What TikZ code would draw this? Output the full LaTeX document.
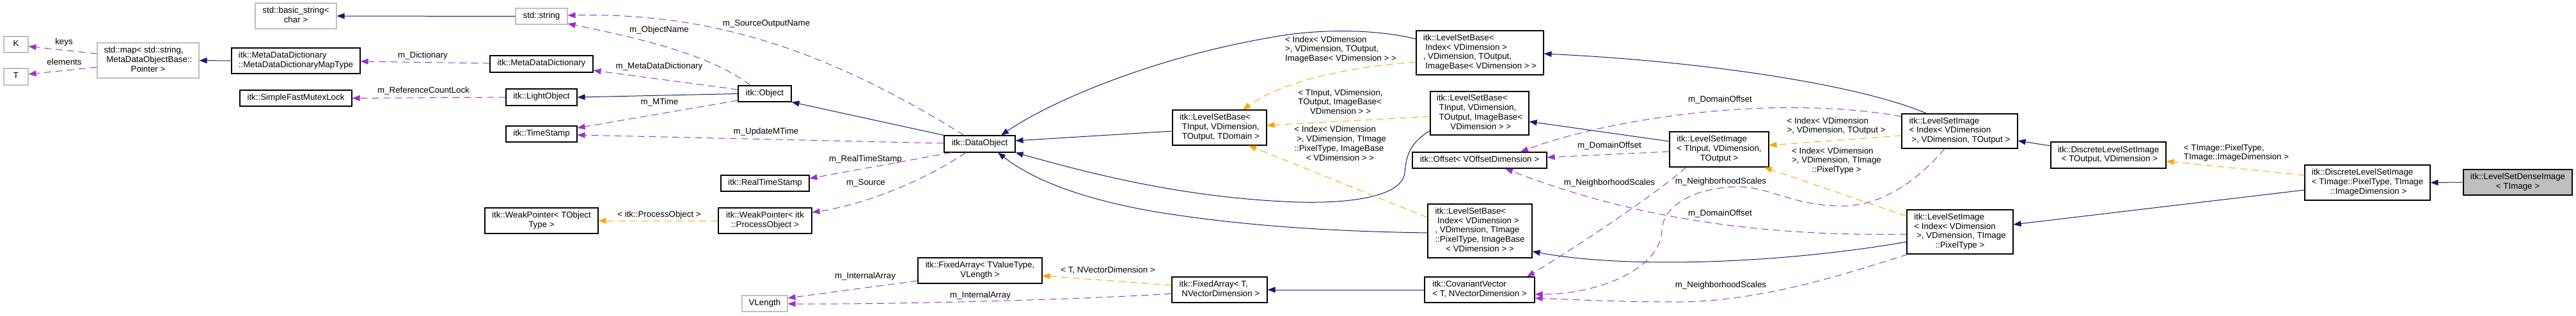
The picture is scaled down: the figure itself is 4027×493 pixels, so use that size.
\documentclass[tikz,border=0pt]{standalone}
\usepackage{fontspec}
\setmainfont{Liberation Sans}
\usetikzlibrary{arrows.meta}
\definecolor{navy}{HTML}{191970}
\definecolor{dpurple}{HTML}{9A32CD}
\definecolor{dorange}{HTML}{FFA500}
\definecolor{grey75}{HTML}{BFBFBF}
\newcommand{\dxl}[1]{\begin{tabular}{@{}l@{}}#1\end{tabular}}
\newcommand{\dxc}[1]{\multicolumn{1}{@{}c@{}}{#1}}
\begin{document}
\begin{tikzpicture}[x=1pt,y=-1pt, font=\fontsize{13.33}{14.9}\selectfont,
 box/.style={draw=black, line width=1.1pt, fill=white, inner sep=0pt, rectangle},
 gbox/.style={box, draw=grey75},
 inh/.style={draw=navy, line width=1pt, -{Triangle[length=12pt,width=9pt]}},
 tmpl/.style={draw=dorange, line width=1pt, dash pattern=on 11pt off 7pt, -{Triangle[length=12pt,width=9pt]}},
 mem/.style={draw=dpurple, line width=1pt, dash pattern=on 11pt off 7pt, -{Triangle[length=12pt,width=9pt]}},
 lbl/.style={inner sep=0pt}]
\useasboundingbox (0,0) rectangle (4027,493);
% nodes
\node[gbox, minimum width=38, minimum height=25] (K) at (25,69.5) {\dxl{K}};
\node[gbox, minimum width=38, minimum height=26] (T) at (25,120) {\dxl{T}};
\node[gbox, minimum width=159, minimum height=55] (map) at (231.5,94.5) {\dxl{std::map< std::string,\\ \ MetaDataObjectBase::\\ \dxc{Pointer >}}};
\node[gbox, minimum width=127, minimum height=40] (bstr) at (462.5,25) {\dxl{std::basic\_string<\\ \dxc{char >}}};
\node[box, minimum width=201, minimum height=40] (mtype) at (462.5,95) {\dxl{itk::MetaDataDictionary\\ \dxc{::MetaDataDictionaryMapType}}};
\node[box, minimum width=175, minimum height=25] (mutex) at (462.5,153.5) {\dxl{itk::SimpleFastMutexLock}};
\node[gbox, minimum width=81, minimum height=25] (str) at (846.5,25.5) {\dxl{std::string}};
\node[box, minimum width=161, minimum height=26] (mdd) at (846.5,100) {\dxl{itk::MetaDataDictionary}};
\node[box, minimum width=111, minimum height=26] (light) at (846.5,152) {\dxl{itk::LightObject}};
\node[box, minimum width=111, minimum height=25] (ts) at (846.5,209.5) {\dxl{itk::TimeStamp}};
\node[box, minimum width=177, minimum height=40] (wpT) at (846.5,345) {\dxl{itk::WeakPointer< TObject\\ \dxc{Type >}}};
\node[box, minimum width=83, minimum height=25] (obj) at (1195.5,146.5) {\dxl{itk::Object}};
\node[box, minimum width=138, minimum height=25] (rts) at (1196,286.5) {\dxl{itk::RealTimeStamp}};
\node[box, minimum width=146, minimum height=40] (wpPO) at (1196,345) {\dxl{itk::WeakPointer< itk\\ \dxc{::ProcessObject >}}};
\node[gbox, minimum width=71, minimum height=25] (vlen) at (1195.5,474.5) {\dxl{VLength}};
\node[box, minimum width=111, minimum height=26] (dobj) at (1531.5,225) {\dxl{itk::DataObject}};
\node[box, minimum width=194, minimum height=40] (faTV) at (1532,423) {\dxl{itk::FixedArray< TValueType,\\ \dxc{VLength >}}};
\node[box, minimum width=147, minimum height=55] (lsbT) at (1906.5,199.5) {\dxl{itk::LevelSetBase<\\ \ TInput, VDimension,\\ \dxc{\ TOutput, TDomain >}}};
\node[box, minimum width=149, minimum height=40] (faT) at (1906.5,453) {\dxl{itk::FixedArray< T,\\ \dxc{\ NVectorDimension >}}};
\node[box, minimum width=199, minimum height=69] (lsbIO) at (2313.5,82.5) {\dxl{itk::LevelSetBase<\\ \ Index< VDimension >\\ , VDimension, TOutput,\\ \dxc{\ ImageBase< VDimension > >}}};
\node[box, minimum width=154, minimum height=68] (lsbII) at (2313,177) {\dxl{itk::LevelSetBase<\\ \ TInput, VDimension,\\ \ TOutput, ImageBase<\\ \dxc{\ VDimension > >}}};
\node[box, minimum width=210, minimum height=25] (off) at (2313,250.5) {\dxl{itk::Offset< VOffsetDimension >}};
\node[box, minimum width=163, minimum height=84] (lsbIP) at (2313.5,361) {\dxl{itk::LevelSetBase<\\ \ Index< VDimension >\\ , VDimension, TImage\\ ::PixelType, ImageBase\\ \dxc{< VDimension > >}}};
\node[box, minimum width=172, minimum height=40] (cov) at (2313,453) {\dxl{itk::CovariantVector\\ \dxc{< T, NVectorDimension >}}};
\node[box, minimum width=155, minimum height=55] (lsiIn) at (2687.5,233.5) {\dxl{itk::LevelSetImage\\ < TInput, VDimension,\\ \dxc{TOutput >}}};
\node[box, minimum width=181, minimum height=54] (lsiIO) at (3063.5,205) {\dxl{itk::LevelSetImage\\ < Index< VDimension\\ \dxc{\ >, VDimension, TOutput >}}};
\node[box, minimum width=166, minimum height=69] (lsiIP) at (3064,362.5) {\dxl{itk::LevelSetImage\\ < Index< VDimension\\ \ >, VDimension, TImage\\ \dxc{::PixelType >}}};
\node[box, minimum width=180, minimum height=41] (dlsiO) at (3296,242.5) {\dxl{itk::DiscreteLevelSetImage\\ \dxc{\ < TOutput, VDimension >}}};
\node[box, minimum width=196, minimum height=55] (dlsiI) at (3701,285.5) {\dxl{itk::DiscreteLevelSetImage\\ < TImage::PixelType, TImage\\ \dxc{\ ::ImageDimension >}}};
\node[box, fill=grey75, minimum width=170, minimum height=40] (dense) at (3936,285) {\dxl{itk::LevelSetDenseImage\\ \dxc{< TImage >}}};
% edge labels
\node[lbl] (lkeys) at (100,67) {\dxl{keys}};
\node[lbl] (lelem) at (100.5,99) {\dxl{elements}};
\node[lbl] (ldict) at (661,88) {\dxl{m\_Dictionary}};
\node[lbl] (lrcl) at (662,143) {\dxl{m\_ReferenceCountLock}};
\node[lbl] (lon) at (1030.5,48) {\dxl{m\_ObjectName}};
\node[lbl] (lson) at (1198,38) {\dxl{m\_SourceOutputName}};
\node[lbl] (lmdd) at (1030.5,105) {\dxl{m\_MetaDataDictionary}};
\node[lbl] (lmt) at (1031,161) {\dxl{m\_MTime}};
\node[lbl] (lumt) at (1197.5,207) {\dxl{m\_UpdateMTime}};
\node[lbl] (lrts) at (1353,250) {\dxl{m\_RealTimeStamp}};
\node[lbl] (lsrc) at (1353.5,287) {\dxl{m\_Source}};
\node[lbl] (lpo) at (1030.5,337) {\dxl{< itk::ProcessObject >}};
\node[lbl] (lia1) at (1352.5,433) {\dxl{m\_InternalArray}};
\node[lbl] (lia2) at (1532.5,463) {\dxl{m\_InternalArray}};
\node[lbl] (ltnv) at (1732,424) {\dxl{< T, NVectorDimension >}};
\node[lbl] (lp) at (2096,78) {\dxl{< Index< VDimension\\ >, VDimension, TOutput,\\ \dxc{ImageBase< VDimension > >}}};
\node[lbl] (lq) at (2095.5,161) {\dxl{< TInput, VDimension,\\ TOutput, ImageBase<\\ \dxc{VDimension > >}}};
\node[lbl] (lr) at (2095,226) {\dxl{< Index< VDimension\\ \ >, VDimension, TImage\\ ::PixelType, ImageBase\\ \dxc{< VDimension > >}}};
\node[lbl] (ls) at (2870.5,197.5) {\dxl{< Index< VDimension\\ \dxc{>, VDimension, TOutput >}}};
\node[lbl] (lt) at (2871,252) {\dxl{< Index< VDimension\\ >, VDimension, TImage\\ \dxc{::PixelType >}}};
\node[lbl] (lu) at (3496,239.5) {\dxl{< TImage::PixelType,\\ \dxc{TImage::ImageDimension >}}};
\node[lbl] (ldo1) at (2689,157) {\dxl{m\_DomainOffset}};
\node[lbl] (ldo2) at (2516,229) {\dxl{m\_DomainOffset}};
\node[lbl] (ldo3) at (2689,335) {\dxl{m\_DomainOffset}};
\node[lbl] (lns1) at (2516,287) {\dxl{m\_NeighborhoodScales}};
\node[lbl] (lns2) at (2690,285) {\dxl{m\_NeighborhoodScales}};
\node[lbl] (lns3) at (2690,447) {\dxl{m\_NeighborhoodScales}};
% inheritance
\draw[inh] (mtype.west) -- (map.east);
\draw[inh] (str.west) -- (bstr.east);
\draw[inh] (obj.west) -- (light.east);
\draw[inh] (dobj.north west) -- (obj.south east);
\draw[inh] ([yshift=21.5pt]lsbIO.west) .. controls (2150,45) and (2060,45) .. (1990,58) .. controls (1800,90) and (1640,160) .. ([xshift=33.5pt]dobj.north);
\draw[inh] ([yshift=-5.5pt]lsbT.west) -- ([yshift=5pt]dobj.east);
\draw[inh] ([yshift=7pt]lsbII.south west) .. controls (2200,225) and (2198,250) .. (2196,270) .. controls (2192,310) and (2100,318) .. (2030,316) .. controls (1850,310) and (1700,270) .. (dobj.south east);
\draw[inh] ([yshift=-3pt]lsbIP.west) .. controls (2100,362) and (1950,355) .. (1800,330) .. controls (1700,312) and (1620,285) .. ([xshift=28.5pt]dobj.south);
\draw[inh] ([xshift=-51.5pt]lsiIO.north) .. controls (2900,130) and (2650,95) .. ([yshift=-1.5pt]lsbIO.east);
\draw[inh] ([yshift=12.5pt]lsiIn.west) -- ([yshift=-13pt]lsbII.east);
\draw[inh] ([yshift=-15.5pt]lsiIP.west) .. controls (2800,410) and (2550,422) .. ([yshift=-32pt]lsbIP.east);
\draw[inh] ([yshift=14.5pt]dlsiO.west) -- ([yshift=-15pt]lsiIO.east);
\draw[inh] ([yshift=-11.5pt]dlsiI.west) -- ([yshift=11.5pt]lsiIP.east);
\draw[inh] (dense.west) -- (dlsiI.east);
\draw[inh] (cov.west) -- (faT.east);
% template instances
\draw[tmpl] ([yshift=-14.5pt]lsbIO.west) .. controls (2100,105) and (2000,130) .. ([xshift=36.5pt]lsbT.north);
\draw[tmpl] ([yshift=-5pt]lsbII.west) -- ([yshift=3.5pt]lsbT.east);
\draw[tmpl] ([yshift=21pt]lsbIP.west) -- ([xshift=45.5pt]lsbT.south);
\draw[tmpl] ([yshift=-7pt]lsiIO.west) -- ([yshift=6.5pt]lsiIn.east);
\draw[tmpl] ([yshift=24.5pt]lsiIP.west) -- ([xshift=70.5pt]lsiIn.south);
\draw[tmpl] ([yshift=11.5pt]dlsiI.west) -- ([yshift=-9.5pt]dlsiO.east);
\draw[tmpl] ([yshift=7pt]faT.west) -- ([yshift=-8pt]faTV.east);
\draw[tmpl] (wpPO.west) -- (wpT.east);
% members
\draw[mem] ([yshift=10.5pt]map.west) -- ([yshift=-3pt]K.east);
\draw[mem] ([yshift=-10.5pt]map.west) -- ([yshift=4pt]T.east);
\draw[mem] ([yshift=1pt]mdd.west) -- ([yshift=-1pt]mtype.east);
\draw[mem] (light.west) -- (mutex.east);
\draw[mem] ([xshift=-22.5pt]obj.north) .. controls (1110,85) and (1000,60) .. ([yshift=-11.5pt]str.east);
\draw[mem] ([xshift=-24.5pt]dobj.north) .. controls (1280,70) and (1100,20) .. ([yshift=1.5pt]str.east);
\draw[mem] ([yshift=6.5pt]obj.west) -- ([yshift=-10pt]mdd.east);
\draw[mem] ([yshift=-10.5pt]obj.west) -- ([yshift=9.5pt]ts.east);
\draw[mem] ([yshift=1pt]dobj.west) -- ([yshift=-1.5pt]ts.east);
\draw[mem] ([xshift=-44.5pt]dobj.south) -- ([yshift=7.5pt]rts.east);
\draw[mem] ([xshift=-21.5pt]dobj.south) .. controls (1440,285) and (1350,320) .. ([yshift=13pt]wpPO.east);
\draw[mem] ([yshift=-16pt]faTV.west) -- ([yshift=8.5pt]vlen.east);
\draw[mem] ([yshift=-6pt]faT.west) .. controls (1700,468) and (1400,476) .. ([yshift=-0.5pt]vlen.east);
\draw[mem] ([yshift=23pt]lsiIO.west) .. controls (2760,145) and (2500,190) .. ([xshift=64pt]off.north);
\draw[mem] ([yshift=-3.5pt]lsiIn.west) -- ([yshift=4.5pt]off.east);
\draw[mem] ([yshift=-3.5pt]lsiIP.west) .. controls (2750,370) and (2550,340) .. ([xshift=40pt]off.south);
\draw[mem] ([xshift=-51.5pt]lsiIn.south) .. controls (2580,310) and (2450,395) .. ([xshift=74pt]cov.north);
\draw[mem] ([xshift=-23.5pt]lsiIO.south) .. controls (3000,280) and (2940,325) .. (2873,322) .. controls (2800,320) and (2760,290) .. (2713,292) .. controls (2650,294) and (2600,320) .. (2598,360) .. controls (2596,420) and (2500,460) .. ([yshift=-7pt]cov.east);
\draw[mem] ([xshift=2pt]lsiIP.south west) .. controls (2880,430) and (2750,472) .. (2620,472) .. controls (2530,472) and (2450,468) .. ([yshift=-13pt]cov.east);
\end{tikzpicture}
\end{document}
